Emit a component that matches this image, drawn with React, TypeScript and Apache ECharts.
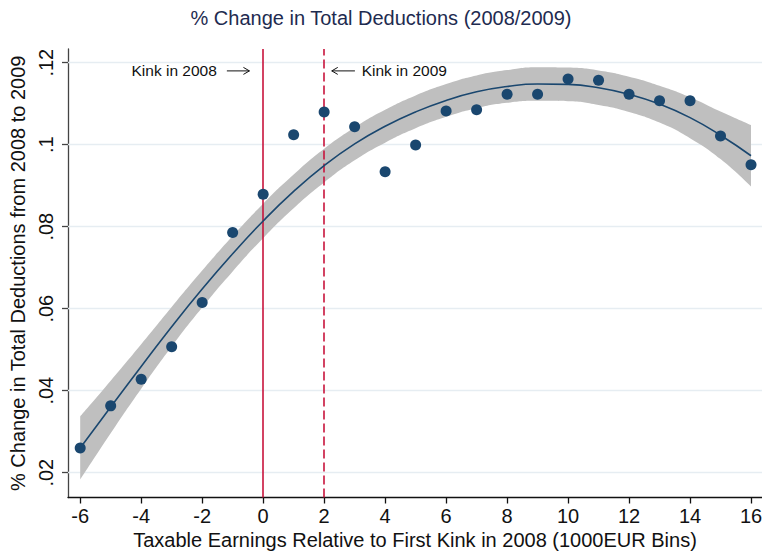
import React, { useEffect, useRef } from "react";
import * as echarts from "echarts";

// ---- data ----
const bins = [-6, -5, -4, -3, -2, -1, 0, 1, 2, 3, 4, 5, 6, 7, 8, 9, 10, 11, 12, 13, 14, 15, 16];
const deductionChange = [
  0.026, 0.0363, 0.0428, 0.0507, 0.0615, 0.0786, 0.0879, 0.1024, 0.108, 0.1044, 0.0934, 0.0999,
  0.1082, 0.1085, 0.1123, 0.1123, 0.116, 0.1157, 0.1123, 0.1107, 0.1107, 0.1021, 0.0951,
];
const fitValues = [
  0.026, 0.036, 0.0459, 0.0556, 0.0648, 0.0734, 0.0814, 0.0886, 0.0949, 0.1002, 0.1045, 0.108,
  0.1108, 0.1129, 0.1142, 0.1148, 0.1147, 0.1139, 0.1123, 0.1099, 0.1066, 0.1023, 0.0973,
];
const ciUpper = [
  0.0337, 0.0424, 0.0513, 0.0604, 0.0693, 0.0777, 0.0856, 0.0927, 0.099, 0.1042, 0.1085, 0.112,
  0.1148, 0.1169, 0.1182, 0.1189, 0.1188, 0.1181, 0.1166, 0.1144, 0.1116, 0.1081, 0.1048,
];
const ciLower = [
  0.0183, 0.0296, 0.0405, 0.0508, 0.0603, 0.0691, 0.0772, 0.0845, 0.0908, 0.0962, 0.1005, 0.104,
  0.1068, 0.1089, 0.1102, 0.1107, 0.1106, 0.1097, 0.108, 0.1054, 0.1016, 0.0965, 0.0898,
];
const xTicks = [-6, -4, -2, 0, 2, 4, 6, 8, 10, 12, 14, 16];
const yTicks = [0.02, 0.04, 0.06, 0.08, 0.1, 0.12];
const kink2008 = 0;
const kink2009 = 2;

const FONT = "'Liberation Sans', Arial, sans-serif";
const NAVY = "#1a476f";
const RED = "#c8143c";

export default function App() {
  const ref = useRef<HTMLDivElement>(null);

  useEffect(() => {
    if (!ref.current) return;
    const chart = echarts.init(ref.current, null, { renderer: "svg" });
    const fmt = (v: number) => v.toFixed(2).replace(/^0/, "").replace(/0$/, "");

    const option: any = {
      animation: false,
      backgroundColor: "#ffffff",
      title: {
        text: "% Change in Total Deductions (2008/2009)",
        left: "center",
        top: 3,
        textStyle: { fontFamily: FONT, fontSize: 20, fontWeight: "normal", color: "#1e2b50" },
      },
      grid: { left: 68, right: 0, top: 49, bottom: 58.5, outerBoundsMode: "none" },
      xAxis: {
        type: "value",
        min: -6.4,
        max: 16.36,
        name: "Taxable Earnings Relative to First Kink in 2008 (1000EUR Bins)",
        nameLocation: "middle",
        nameGap: 27,
        nameTextStyle: { fontFamily: FONT, fontSize: 20, color: "#111" },
        axisLine: { show: true, onZero: false, lineStyle: { color: "#111", width: 1.3 } },
        axisTick: { show: true, length: 6, customValues: xTicks, lineStyle: { color: "#111", width: 1.3 } },
        axisLabel: {
          customValues: xTicks,
          margin: 8,
          fontFamily: FONT,
          fontSize: 20,
          color: "#111",
        },
        splitLine: { show: false },
      },
      yAxis: {
        type: "value",
        min: 0.01395,
        max: 0.12334,
        name: "% Change in Total Deductions from 2008 to 2009",
        nameLocation: "middle",
        nameGap: 35,
        nameTextStyle: { fontFamily: FONT, fontSize: 20, color: "#111" },
        axisLine: { show: true, onZero: false, lineStyle: { color: "#444", width: 1.3 } },
        axisTick: { show: true, length: 6, customValues: yTicks, lineStyle: { color: "#444", width: 1.3 } },
        axisLabel: {
          customValues: yTicks,
          rotate: 90,
          margin: 12,
          fontFamily: FONT,
          fontSize: 20,
          color: "#111",
          formatter: fmt,
        },
        splitLine: { show: false },
      },
      series: [
        {
          // lower edge of the confidence band (y first so that y is the stacked dimension)
          name: "ciLower",
          type: "line",
          stack: "ci",
          smooth: true,
          symbol: "none",
          z: 2,
          encode: { x: 1, y: 0 },
          lineStyle: { opacity: 0 },
          data: bins.map((x, i) => [ciLower[i], x]),
          markLine: {
            silent: true,
            symbol: ["none", "none"],
            z: 1,
            label: { show: false },
            lineStyle: { color: "#e6edf2", width: 1.3, type: "solid" },
            data: yTicks.map((v) => ({ yAxis: v })),
          },
        },
        {
          name: "ciBand",
          type: "line",
          stack: "ci",
          smooth: true,
          symbol: "none",
          z: 2,
          encode: { x: 1, y: 0 },
          lineStyle: { opacity: 0 },
          areaStyle: { color: "#bfbfbf", opacity: 1 },
          data: bins.map((x, i) => [+(ciUpper[i] - ciLower[i]).toFixed(5), x]),
        },
        {
          name: "kinks",
          type: "line",
          data: [],
          z: 3,
          markLine: {
            silent: true,
            symbol: ["none", "none"],
            z: 3,
            label: { show: false },
            data: [
              { xAxis: kink2008, lineStyle: { color: RED, width: 1.6, type: "solid" } },
              { xAxis: kink2009, lineStyle: { color: RED, width: 1.6, type: [9, 4] } },
            ],
          },
        },
        {
          name: "fit",
          type: "line",
          smooth: true,
          symbol: "none",
          z: 4,
          lineStyle: { color: NAVY, width: 1.6 },
          data: bins.map((x, i) => [x, fitValues[i]]),
        },
        {
          name: "bins",
          type: "scatter",
          z: 5,
          symbolSize: 11,
          itemStyle: { color: NAVY, opacity: 1 },
          data: bins.map((x, i) => [x, deductionChange[i]]),
        },
      ],
    };
    chart.setOption(option);

    // annotations placed in data coordinates
    const px = (x: number, y: number) => chart.convertToPixel({ gridIndex: 0 }, [x, y]) as number[];
    const labelY = 0.118;
    const t08 = px(-1.52, labelY);
    const a08s = px(-1.19, labelY);
    const a08e = px(-0.45, labelY);
    const t09 = px(3.23, labelY);
    const a09s = px(3.01, labelY);
    const a09e = px(2.25, labelY);
    const arrow = (s: number[], e: number[]) => {
      const dir = e[0] > s[0] ? 1 : -1;
      return [
        { type: "polyline", shape: { points: [s, e] }, style: { stroke: "#111", lineWidth: 1, fill: null }, z: 10 },
        {
          type: "polyline",
          shape: { points: [[e[0] - dir * 6, e[1] - 3.5], e, [e[0] - dir * 6, e[1] + 3.5]] },
          style: { stroke: "#111", lineWidth: 1, fill: null },
          z: 10,
        },
      ];
    };
    chart.setOption({
      graphic: [
        {
          type: "text",
          x: t08[0],
          y: t08[1],
          z: 10,
          style: { text: "Kink in 2008", font: `15.5px ${FONT}`, fill: "#111", align: "right", verticalAlign: "middle" },
        },
        ...arrow(a08s, a08e),
        {
          type: "text",
          x: t09[0],
          y: t09[1],
          z: 10,
          style: { text: "Kink in 2009", font: `15.5px ${FONT}`, fill: "#111", align: "left", verticalAlign: "middle" },
        },
        ...arrow(a09s, a09e),
      ],
    });

    return () => chart.dispose();
  }, []);

  return <div ref={ref} style={{ position: "fixed", left: 0, top: 0, width: 762, height: 556 }} />;
}
